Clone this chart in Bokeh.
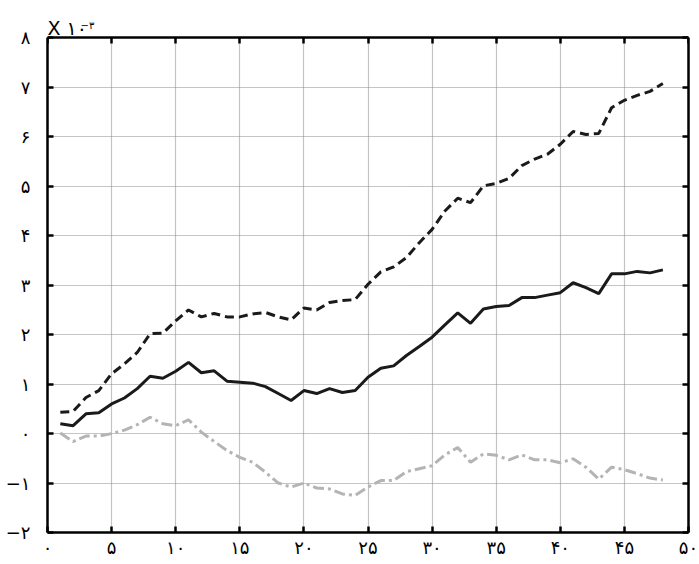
from bokeh.plotting import figure
from bokeh.models import FixedTicker, LinearAxis, Label, Range1d, BoxAnnotation
from bokeh.embed import file_html
from bokeh.resources import INLINE

x = list(range(1, 49))
dashed = [0.43, 0.45, 0.73, 0.87, 1.21, 1.41, 1.64, 2.02, 2.03, 2.28, 2.50, 2.36,
          2.43, 2.36, 2.36, 2.42, 2.45, 2.36, 2.30, 2.54, 2.50, 2.65, 2.69, 2.71,
          3.02, 3.27, 3.37, 3.56, 3.86, 4.13, 4.50, 4.76, 4.67, 5.01, 5.06, 5.16,
          5.42, 5.55, 5.65, 5.85, 6.11, 6.05, 6.07, 6.59, 6.74, 6.84, 6.92, 7.08]
solid = [0.20, 0.16, 0.40, 0.42, 0.60, 0.72, 0.91, 1.16, 1.12, 1.26, 1.44, 1.23,
         1.27, 1.06, 1.04, 1.02, 0.95, 0.81, 0.67, 0.87, 0.81, 0.91, 0.83, 0.87,
         1.14, 1.32, 1.37, 1.58, 1.76, 1.95, 2.20, 2.44, 2.23, 2.52, 2.57, 2.59,
         2.75, 2.75, 2.80, 2.85, 3.05, 2.95, 2.83, 3.23, 3.23, 3.28, 3.25, 3.31]
gray = [0.01, -0.16, -0.05, -0.05, 0.00, 0.07, 0.18, 0.33, 0.20, 0.16, 0.28, 0.03,
        -0.16, -0.34, -0.48, -0.58, -0.78, -1.00, -1.08, -1.00, -1.10, -1.12, -1.22, -1.25,
        -1.08, -0.95, -0.95, -0.77, -0.71, -0.65, -0.43, -0.28, -0.58, -0.41, -0.44, -0.53,
        -0.43, -0.53, -0.53, -0.59, -0.51, -0.68, -0.92, -0.68, -0.73, -0.81, -0.90, -0.94]

x_ticks = [0, 5, 10, 15, 20, 25, 30, 35, 40, 45, 50]
x_tick_labels = ["۰", "۵", "۱۰", "۱۵", "۲۰", "۲۵", "۳۰", "۳۵", "۴۰", "۴۵", "۵۰"]
y_ticks = [-2, -1, 0, 1, 2, 3, 4, 5, 6, 7, 8]
y_tick_labels = ["−۲", "−۱", "۰", "۱", "۲", "۳", "۴", "۵", "۶", "۷", "۸"]
scale_text = "X ۱۰"
scale_exp = "−۳"

FONT = "DejaVu Sans"
Y_MIN, Y_MAX = y_ticks[0], y_ticks[-1]
# extra room above the last tick so the scale note can sit inside the frame
Y_TOP = Y_MAX + 0.758

p = figure(width=699, height=564, output_backend="svg", toolbar_location=None,
           x_range=Range1d(x_ticks[0], x_ticks[-1]), y_range=Range1d(Y_MIN, Y_TOP),
           x_axis_location=None, y_axis_location=None,
           min_border_left=47, min_border_right=11, min_border_top=0, min_border_bottom=32)
p.outline_line_color = None
p.background_fill_color = "white"
p.border_fill_color = "white"


def make_axis(ticks, labels, show, **kw):
    ax = LinearAxis(ticker=FixedTicker(ticks=ticks), **kw)
    ax.axis_line_color = "black"
    ax.axis_line_width = 2.5
    ax.major_tick_in = 6
    ax.major_tick_out = 0
    ax.major_tick_line_width = 2.5
    ax.major_tick_line_color = "black"
    ax.minor_tick_line_color = None
    if show:
        ax.major_label_overrides = {t: l for t, l in zip(ticks, labels)}
        ax.major_label_text_font = FONT
        ax.major_label_text_font_size = "18px"
        ax.major_label_text_color = "black"
    else:
        ax.major_label_text_font_size = "0px"
        ax.major_label_text_color = None
        ax.major_label_standoff = 0
    return ax


bottom = make_axis(x_ticks, x_tick_labels, True)
bottom.major_label_standoff = 4
left = make_axis(y_ticks, y_tick_labels, True, bounds=(Y_MIN, Y_MAX))
left.major_label_standoff = 17
top = make_axis(x_ticks, x_tick_labels, False, fixed_location=Y_MAX)
right = make_axis(y_ticks, y_tick_labels, False, bounds=(Y_MIN, Y_MAX))
p.add_layout(bottom, "below")
p.add_layout(left, "left")
p.add_layout(top, "above")
p.add_layout(right, "right")

p.xgrid.ticker = FixedTicker(ticks=x_ticks)
p.ygrid.ticker = FixedTicker(ticks=y_ticks)
for g in (p.xgrid, p.ygrid):
    g.grid_line_color = "#8a8a8a"
    g.grid_line_width = 1.2
    g.grid_line_dash = "1 1"

# white cover above the last tick, so grid lines stop at the top of the box
p.add_layout(BoxAnnotation(bottom=Y_MAX, fill_color="white", fill_alpha=1.0,
                           line_color=None, level="underlay"))

p.line(x, gray, line_color="#b4b4b4", line_width=3, line_dash="11 4 3 4")
p.line(x, solid, line_color="#1a1a1a", line_width=3)
p.line(x, dashed, line_color="#1a1a1a", line_width=3, line_dash="9 5")

p.add_layout(Label(x=x_ticks[0], y=Y_MAX, x_offset=0, y_offset=9.5, text=scale_text,
                   text_font=FONT, text_font_size="19px", text_color="black",
                   text_baseline="alphabetic"))
p.add_layout(Label(x=x_ticks[0], y=Y_MAX, x_offset=33, y_offset=12.5, text=scale_exp,
                   text_font=FONT, text_font_size="10px", text_color="black",
                   text_baseline="alphabetic"))

open("out.html", "w").write(file_html(p, INLINE))
